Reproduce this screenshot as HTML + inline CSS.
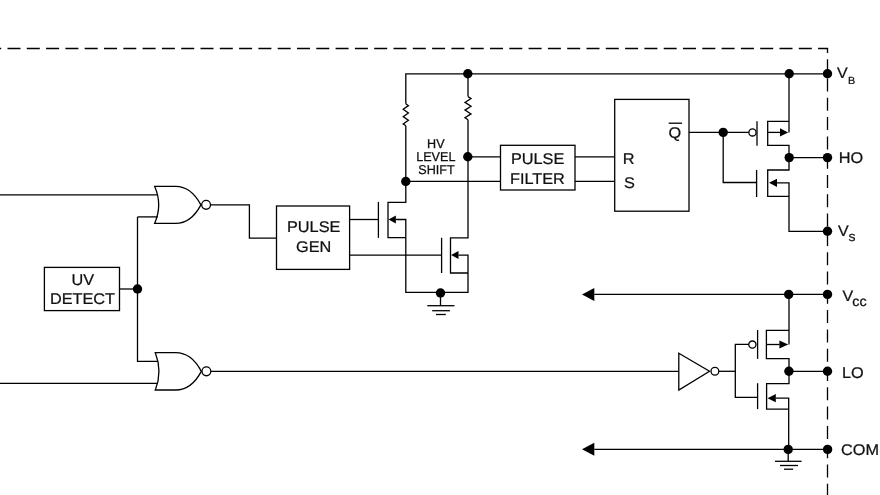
<!DOCTYPE html>
<html><head><meta charset="utf-8"><style>
html,body{margin:0;padding:0;background:#fff;width:880px;height:495px;overflow:hidden}
svg{display:block;will-change:transform}
svg path, svg rect, svg circle{stroke:#000;stroke-width:1.3;fill:none;stroke-linecap:butt;stroke-linejoin:miter}
svg .f{fill:#000;stroke:none}
svg circle.f{fill:#000}
svg rect{fill:#fff}
svg .dash{stroke-dasharray:13 6.3;stroke-width:1.3}
text{text-rendering:geometricPrecision;font-family:"Liberation Sans",sans-serif;fill:#111;stroke:#111;stroke-width:0.25}
</style></head><body>
<svg width="880" height="495" viewBox="0 0 880 495">
<path d="M0,48.5 L828.1,48.5" class="dash" style="stroke-dashoffset:11.8"/>
<path d="M827.5,47.9 L827.5,495" class="dash" style="stroke-dashoffset:8.0"/>
<path d="M405.80,103.80 L405.80,73.80 L827.50,73.80"/>
<path d="M405.80,103.80 L408.40,105.63 L403.20,109.30 L408.40,112.97 L403.20,116.63 L408.40,120.30 L403.20,123.97 L405.80,125.80"/>
<path d="M405.80,125.80 L405.80,202.30 L388.00,202.30 L388.00,237.60 L405.80,237.60"/>
<path d="M468.00,73.80 L468.00,96.60"/>
<path d="M468.00,96.60 L471.00,98.52 L465.00,102.38 L471.00,106.22 L465.00,110.08 L471.00,113.92 L465.00,117.78 L468.00,119.70"/>
<path d="M468.00,119.70 L468.00,237.80 L450.50,237.80 L450.50,273.00 L468.00,273.00"/>
<text transform="translate(435.8,148.4) scale(1,1.02)" font-size="12.6" text-anchor="middle">HV</text>
<text transform="translate(435.8,161.3) scale(1,1.02)" font-size="12.6" text-anchor="middle">LEVEL</text>
<text transform="translate(436.5,174.0) scale(1,1.02)" font-size="12.6" text-anchor="middle">SHIFT</text>
<path d="M468.00,156.90 L614.70,156.90"/>
<path d="M405.80,181.30 L614.70,181.30"/>
<rect x="500.5" y="145.3" width="74.50" height="44.70" fill="#fff"/>
<text transform="translate(537.6,163.8) scale(1,0.95)" font-size="16.3" text-anchor="middle">PULSE</text>
<text transform="translate(537.4,183.6) scale(1,0.95)" font-size="16.3" text-anchor="middle">FILTER</text>
<rect x="614.7" y="99.4" width="74.30" height="111.80" fill="#fff"/>
<text transform="translate(622.8,163.5) scale(1,0.95)" font-size="16.3" text-anchor="start">R</text>
<text transform="translate(624.0,187.6) scale(1,0.95)" font-size="16.3" text-anchor="start">S</text>
<text transform="translate(668.5,137.8) scale(1,0.95)" font-size="16.3" text-anchor="start">Q</text>
<path d="M668.70,123.20 L682.10,123.20"/>
<path d="M689.00,132.40 L748.70,132.40"/>
<circle cx="752.5" cy="132.4" r="3.6" fill="#fff"/>
<path d="M757.00,121.30 L757.00,145.70"/>
<path d="M789.00,73.80 L789.00,132.40"/>
<path d="M780.20,132.40 L767.70,132.40"/>
<path d="M789.00,121.30 L767.70,121.30 L767.70,145.40 L789.00,145.40 L789.00,170.00 L767.70,170.00 L767.70,196.40 L789.00,196.40"/>
<path d="M788.2,132.4 L780.0,128.3 L780.0,136.5 Z" class="f"/>
<path d="M723.20,132.40 L723.20,182.50 L756.60,182.50"/>
<path d="M756.60,170.00 L756.60,197.00"/>
<path d="M769.0,182.8 L777,178.70000000000002 L777,186.9 Z" class="f"/>
<path d="M777.00,182.80 L789.00,182.80 L789.00,231.30 L827.50,231.30"/>
<path d="M789.00,157.60 L827.50,157.60"/>
<text transform="translate(837.0,78.0) scale(1,0.95)" font-size="16" text-anchor="start">V</text>
<text transform="translate(848.0,83.5) scale(1,0.95)" font-size="10.8" text-anchor="start">B</text>
<text transform="translate(838.8,163.3) scale(1,0.95)" font-size="16.3" text-anchor="start">HO</text>
<text transform="translate(838.0,235.7) scale(1,0.95)" font-size="16" text-anchor="start">V</text>
<text transform="translate(848.6,241.2) scale(1,0.95)" font-size="14" text-anchor="start">s</text>
<text transform="translate(842.5,300.6) scale(1,0.95)" font-size="16" text-anchor="start">V</text>
<text transform="translate(852.2,306.4) scale(1,0.95)" font-size="14.5" text-anchor="start">cc</text>
<text transform="translate(842.0,377.8) scale(1,0.95)" font-size="16.3" text-anchor="start">LO</text>
<text transform="translate(841.0,454.5) scale(1,0.95)" font-size="16.3" text-anchor="start">COM</text>
<path d="M0.00,194.90 L158.00,194.90"/>
<path d="M137.50,216.90 L158.00,216.90"/>
<path d="M137.50,216.90 L137.50,361.30 L158.00,361.30"/>
<path d="M0.00,383.30 L158.00,383.30"/>
<path d="M154.6,186.3 L175.6,186.3 C187.6,186.3 195.9,195.35000000000002 200.9,204.85000000000002 C195.9,214.35000000000002 187.6,223.4 175.6,223.4 L154.6,223.4 Q162.79999999999998,204.85000000000002 154.6,186.3 Z" fill="#fff"/>
<circle cx="206.1" cy="204.85000000000002" r="4.4" fill="#fff"/>
<path d="M155.3,352.7 L175.6,352.7 C187.6,352.7 196.3,361.85 201.3,371.35 C196.3,380.85 187.6,390.0 175.6,390.0 L155.3,390.0 Q162.7,371.35 155.3,352.7 Z" fill="#fff"/>
<circle cx="206.4" cy="371.35" r="4.4" fill="#fff"/>
<path d="M210.10,204.80 L249.40,204.80 L249.40,238.20 L276.50,238.20"/>
<rect x="44.4" y="267.4" width="75.10" height="43.20" fill="#fff"/>
<text transform="translate(82.8,285.2) scale(1,0.95)" font-size="16.3" text-anchor="middle">UV</text>
<text transform="translate(82.5,304.4) scale(1,0.95)" font-size="16.3" text-anchor="middle">DETECT</text>
<path d="M119.50,289.00 L137.50,289.00"/>
<rect x="276.5" y="206" width="73.10" height="63.40" fill="#fff"/>
<text transform="translate(313.7,232.1) scale(1,0.95)" font-size="16.3" text-anchor="middle">PULSE</text>
<text transform="translate(313.7,252.1) scale(1,0.95)" font-size="16.3" text-anchor="middle">GEN</text>
<path d="M349.60,219.50 L378.40,219.50"/>
<path d="M349.60,255.10 L441.60,255.10"/>
<path d="M378.40,201.90 L378.40,237.90"/>
<path d="M388.5,219.5 L395.9,215.5 L395.9,223.5 Z" class="f"/>
<path d="M395.70,219.50 L405.80,219.50 L405.80,292.30 L468.00,292.30 L468.00,255.10 L458.30,255.10"/>
<path d="M441.60,237.80 L441.60,273.00"/>
<path d="M451.1,255.1 L458.5,251.1 L458.5,259.1 Z" class="f"/>
<path d="M440.50,293.00 L440.50,305.70"/>
<path d="M427.30,305.70 L454.50,305.70"/>
<path d="M432.20,310.70 L449.90,310.70"/>
<path d="M436.00,314.50 L445.80,314.50"/>
<path d="M582,294.4 L594.3,287.9 L594.3,300.9 Z" class="f"/>
<path d="M594.30,294.40 L827.50,294.40"/>
<path d="M789.00,294.40 L789.00,344.50"/>
<path d="M789.00,330.30 L766.40,330.30 L766.40,358.60 L789.00,358.60 L789.00,383.60 L766.60,383.60 L766.60,409.10 L789.00,409.10"/>
<path d="M766.40,344.50 L779.60,344.50"/>
<path d="M788.2,344.5 L779.4,340.4 L779.4,348.6 Z" class="f"/>
<path d="M757.60,330.00 L757.60,358.90"/>
<circle cx="752.4" cy="344.6" r="3.6" fill="#fff"/>
<path d="M748.80,344.40 L735.30,344.40 L735.30,397.40 L757.60,397.40"/>
<path d="M210.60,371.30 L678.80,371.30"/>
<path d="M678.8,353.2 L709.5,371.3 L678.8,390.1 Z" fill="#fff"/>
<circle cx="714.9" cy="371.3" r="3.9" fill="#fff"/>
<path d="M718.80,371.30 L735.30,371.30"/>
<path d="M789.00,371.30 L827.50,371.30"/>
<path d="M757.60,383.20 L757.60,409.10"/>
<path d="M767.5,398.2 L775.8,394.09999999999997 L775.8,402.3 Z" class="f"/>
<path d="M775.80,398.20 L788.70,398.20 L788.70,449.40"/>
<path d="M582,449.2 L594.3,442.7 L594.3,455.7 Z" class="f"/>
<path d="M594.30,449.30 L827.50,449.30"/>
<path d="M788.20,449.40 L788.20,461.30"/>
<path d="M775.00,461.30 L801.60,461.30"/>
<path d="M780.00,465.50 L798.00,465.50"/>
<path d="M784.00,469.20 L793.20,469.20"/>
<circle cx="467.8" cy="73.8" r="4.7" class="f"/>
<circle cx="789.2" cy="73.8" r="4.7" class="f"/>
<circle cx="827.5" cy="73.8" r="4.7" class="f"/>
<circle cx="467.8" cy="156.8" r="4.7" class="f"/>
<circle cx="405.8" cy="181.5" r="4.7" class="f"/>
<circle cx="723.2" cy="132.4" r="4.7" class="f"/>
<circle cx="789.2" cy="157.6" r="4.7" class="f"/>
<circle cx="827.5" cy="157.6" r="4.7" class="f"/>
<circle cx="827.5" cy="231.3" r="4.7" class="f"/>
<circle cx="137.5" cy="289" r="4.7" class="f"/>
<circle cx="440.5" cy="293.0" r="4.7" class="f"/>
<circle cx="788.7" cy="294.4" r="4.7" class="f"/>
<circle cx="827.5" cy="294.4" r="4.7" class="f"/>
<circle cx="788.9" cy="371.3" r="4.7" class="f"/>
<circle cx="827.5" cy="371.3" r="4.7" class="f"/>
<circle cx="788.2" cy="449.4" r="4.7" class="f"/>
<circle cx="827.6" cy="449.4" r="4.7" class="f"/>
</svg>
</body></html>
